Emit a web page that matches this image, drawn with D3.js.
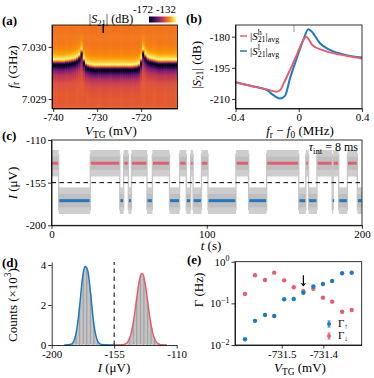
<!DOCTYPE html>
<html>
<head>
<meta charset="utf-8">
<script src="https://cdn.jsdelivr.net/npm/d3@7"></script>
<style>
  body { margin: 0; background: #fff; }
  svg { display: block; font-family: "Liberation Serif", serif; }
</style>
</head>
<body>
<svg id="fig" width="374" height="378"></svg>
<script>
// ---- (a) map of |S21| vs V_TG and f_r ----
const vtgCols = d3.range(-740, -711.9, 0.5);
// resonance shift (MHz) of every V_TG column
const resShift = [
  0, 0, 0, 0, 0, 0, 0.01, 0.01, 0.02, 0.03, 0.04, 0.06, 0.1, 0.2,
  0.03, -0.05, -0.075, -0.09, -0.095, -0.1, -0.1, -0.1, -0.1, -0.1, -0.1, -0.1, -0.1, -0.1,
  -0.1, -0.1, -0.1, -0.1, -0.1, -0.1, -0.1, -0.1, -0.1, -0.095, -0.09, -0.07, 0.03,
  0.2, 0.11, 0.06, 0.04, 0.03, 0.02, 0.01, 0, 0, 0, 0, 0, 0, 0, 0, 0
];
const fOuter = 7.029713; // GHz
// line shape: offset from resonance (MHz) -> |S21| (dB)
const profileDf = [-1.3, -0.6, -0.4, -0.25, -0.15, -0.09, -0.057, -0.029, 0, 0.029, 0.057, 0.095, 0.15, 0.23, 0.38, 0.86];
const profileDb = [-146.5, -147, -148.5, -152.5, -159.5, -168, -172, -167, -152, -138, -133, -136.5, -140, -142.5, -144, -144.5];
const cbarTicks = [-172, -132];
const markerVtg = -728.6;

// ---- (b) averaged traces ----
const fHigh = [-0.4, -0.3, -0.2, -0.14, -0.115, -0.095, -0.055, -0.013, 0.029, 0.048, 0.065, 0.085, 0.155, 0.26, 0.4];
const sHigh = [-202, -203.8, -205.4, -206.5, -205.5, -202.5, -196, -188.9, -181.6, -180, -181.5, -184, -186.6, -188.6, -190.5];
const fLow = [-0.4, -0.3, -0.2, -0.16, -0.118, -0.087, -0.055, -0.013, 0.029, 0.06, 0.08, 0.134, 0.197, 0.3, 0.4];
const sLow = [-202, -203.8, -205.8, -208.2, -209.8, -208.5, -200, -190.5, -181.6, -176.4, -177.4, -183.2, -186.4, -188.9, -190];
const markerDf = -0.03;

// ---- (c) telegraph trace ----
const switchTimes = [0, 4.6, 25.0, 44.0, 46.5, 49.5, 51.5, 61.5, 65.0, 76.0, 82.5, 86.8, 89.6, 91.2, 96.6,
  100.8, 118.8, 127.0, 138.6, 159.3, 163.8, 165.6, 171.0, 180.8, 181.4, 185.0, 190.6, 197.0, 200];
const firstState = "h";
const levelH = -134.5, levelL = -174, noiseHalf = 14;
const threshold = -155;

// ---- (d) histograms ----
const blueHistI = d3.range(-188, -162);
const blueHistN = [0.01, 0.02, 0.04, 0.09, 0.2, 0.41, 0.76, 1.25, 1.86, 2.57, 3.25, 3.71, 3.93, 3.88, 3.7, 3.22, 2.6, 1.88, 1.23, 0.74, 0.42, 0.2, 0.1, 0.04, 0.02, 0.01];
const redHistI = d3.range(-149, -120);
const redHistN = [0.01, 0.02, 0.05, 0.1, 0.18, 0.32, 0.53, 0.84, 1.23, 1.7, 2.22, 2.74, 3.18, 3.48, 3.57, 3.49, 3.17, 2.75, 2.21, 1.7, 1.23, 0.84, 0.53, 0.32, 0.18, 0.1, 0.05, 0.02, 0.01];
const blueFitEnds = [-191, -155];
const redFitEnds = [-155, -117];

// ---- (e) rates ----
const vtgE = [-731.588, -731.564, -731.54, -731.518, -731.494, -731.471, -731.448, -731.424, -731.401, -731.379, -731.355, -731.332];
const gammaUp = [0.0137, 0.038, 0.0525, 0.0497, 0.125, 0.127, 0.18, 0.256, 0.292, 0.344, 0.526, 0.545];
const gammaDown = [0.168, 0.471, 0.363, 0.546, 0.357, 0.243, 0.195, 0.225, 0.137, 0.11, 0.063, 0.069];
const arrowV = -731.448;

const RED = "#e0606f", BLUE = "#1f78c2";
const FS = 11, LFS = 13;
const svg = d3.select("#fig");

// text with sub/superscripts
function rich(sel, parts, fs) {
  let cur = 0;
  parts.forEach(p => {
    const target = p.sub ? 0.22 * fs : p.sup ? -0.4 * fs : 0;
    const ts = sel.append("tspan").text(p.t)
      .attr("font-size", (p.sub || p.sup) ? fs * 0.72 : fs);
    if (target !== cur || p.dx) ts.attr("dy", target - cur);
    if (p.dx) ts.attr("dx", p.dx);
    if (p.it) ts.attr("font-style", "italic");
    cur = target;
  });
  return sel;
}

function styleAxis(g) {
  g.selectAll("path, line").attr("stroke", "#000").attr("stroke-width", 0.8);
  g.selectAll("text").attr("font-size", FS).attr("font-family", "Liberation Serif, serif").attr("fill", "#000");
  return g;
}

function frame(x, y) {
  svg.append("rect")
    .attr("x", x.range()[0]).attr("y", y.range()[1])
    .attr("width", x.range()[1] - x.range()[0]).attr("height", y.range()[0] - y.range()[1])
    .attr("fill", "none").attr("stroke", "#000").attr("stroke-width", 0.8);
}

function xLabel(parts, x, y) {
  rich(svg.append("text").attr("x", x).attr("y", y).attr("text-anchor", "middle").attr("font-size", LFS), parts, LFS);
}
function yLabel(parts, x, y) {
  rich(svg.append("text").attr("transform", `translate(${x},${y}) rotate(-90)`)
    .attr("text-anchor", "middle").attr("dy", "0.35em").attr("font-size", LFS), parts, LFS);
}
function panelLabel(t, x, y) {
  svg.append("text").attr("x", x).attr("y", y).attr("font-size", 13).attr("font-weight", "bold").text(t);
}
const plain = d => String(d);

// ================= (a) =================
const xA = d3.scaleLinear().domain([-740.25, -711.75]).range([52, 177.4]);
const yA = d3.scaleLinear().domain([7.02882, 7.03042]).range([108.5, 25]);
const dbOf = d3.scaleLinear().domain(profileDf).range(profileDb).clamp(true);
const colorA = d3.scaleSequential(d3.interpolateInferno).domain([-172, -132]).clamp(true);

svg.append("clipPath").attr("id", "clipA").append("rect")
  .attr("x", 52).attr("y", 25).attr("width", 125.4).attr("height", 83.5);

const fRows = d3.range(7.02882, 7.03042, 0.00002);
const cells = [];
vtgCols.forEach((v, i) => {
  fRows.forEach(f => {
    const df = (f + 0.00001 - fOuter) * 1000 - resShift[i];
    cells.push({ v, f, db: dbOf(df) });
  });
});
svg.append("g").attr("clip-path", "url(#clipA)")
  .selectAll("rect").data(cells).join("rect")
  .attr("x", d => xA(d.v - 0.25))
  .attr("y", d => yA(d.f + 0.00002) - 0.3)
  .attr("width", xA(0.5) - xA(0) + 0.4)
  .attr("height", yA(7.029) - yA(7.02902) + 0.6)
  .attr("fill", d => colorA(d.db));

svg.append("line")
  .attr("x1", xA(markerVtg)).attr("x2", xA(markerVtg))
  .attr("y1", 24).attr("y2", 33).attr("stroke", "#000").attr("stroke-width", 1.5);

styleAxis(svg.append("g").attr("transform", "translate(52,0)")
  .call(d3.axisLeft(yA).tickValues([7.029, 7.03]).tickFormat(d3.format(".3f")).tickSize(3.5).tickSizeOuter(0).tickPadding(2)));
styleAxis(svg.append("g").attr("transform", "translate(0,108.5)")
  .call(d3.axisBottom(xA).tickValues([-740, -730, -720]).tickFormat(plain).tickSize(3.5).tickSizeOuter(0).tickPadding(1.5)));
frame(xA, yA);

// colorbar
const grad = svg.append("defs").append("linearGradient").attr("id", "cbar");
d3.range(0, 1.001, 0.1).forEach(t => {
  grad.append("stop").attr("offset", t).attr("stop-color", d3.interpolateInferno(t));
});
svg.append("rect").attr("x", 149).attr("y", 16.5).attr("width", 27).attr("height", 6).attr("fill", "url(#cbar)");
svg.selectAll(".cbt").data(cbarTicks).join("text")
  .attr("x", (d, i) => i === 0 ? 143 : 166).attr("y", 12.5)
  .attr("text-anchor", "middle").attr("font-size", FS).text(plain);
rich(svg.append("text").attr("x", 111).attr("y", 23).attr("text-anchor", "middle").attr("font-size", 12),
  [{ t: "|" }, { t: "S", it: true }, { t: "21", sub: true }, { t: "| (dB)" }], 12);

xLabel([{ t: "V", it: true }, { t: "TG", sub: true }, { t: " (mV)" }], 111, 135);
yLabel([{ t: "f", it: true }, { t: "r", sub: true }, { t: " (GHz)" }], 12, 67);
panelLabel("(a)", 2, 25);

// ================= (b) =================
const xB = d3.scaleLinear().domain([-0.4, 0.4]).range([235.5, 362]);
const yB = d3.scaleLinear().domain([-214.6, -174.4]).range([108.5, 25]);
const lineB = d3.line().curve(d3.curveMonotoneX);
svg.append("path").attr("d", lineB(fLow.map((f, i) => [xB(f), yB(sLow[i])])))
  .attr("fill", "none").attr("stroke", BLUE).attr("stroke-width", 2);
svg.append("path").attr("d", lineB(fHigh.map((f, i) => [xB(f), yB(sHigh[i])])))
  .attr("fill", "none").attr("stroke", RED).attr("stroke-width", 2);
svg.append("line").attr("x1", xB(markerDf)).attr("x2", xB(markerDf))
  .attr("y1", 25).attr("y2", 32).attr("stroke", "#999").attr("stroke-width", 1);

styleAxis(svg.append("g").attr("transform", "translate(235.5,0)")
  .call(d3.axisLeft(yB).tickValues([-180, -195, -210]).tickFormat(plain).tickSize(3.5).tickSizeOuter(0).tickPadding(2)));
styleAxis(svg.append("g").attr("transform", "translate(0,108.5)")
  .call(d3.axisBottom(xB).tickValues([-0.4, 0, 0.4]).tickFormat(plain).tickSize(3.5).tickSizeOuter(0).tickPadding(1.5)));
frame(xB, yB);

[[RED, "h", 36], [BLUE, "l", 51]].forEach(([c, s, y]) => {
  svg.append("line").attr("x1", 240).attr("x2", 247).attr("y1", y).attr("y2", y)
    .attr("stroke", c).attr("stroke-width", 1.5);
  rich(svg.append("text").attr("x", 250).attr("y", y + 3.5).attr("font-size", FS),
    [{ t: "|" }, { t: "S", it: true }, { t: s, sup: true }, { t: "21", sub: true, dx: s === "h" ? -4 : -2.2 }, { t: "|" }, { t: "avg", sub: true }], FS);
});

xLabel([{ t: "f", it: true }, { t: "r", sub: true }, { t: " − " }, { t: "f", it: true }, { t: "0", sub: true }, { t: " (MHz)" }], 300, 135);
yLabel([{ t: "|" }, { t: "S", it: true }, { t: "21", sub: true }, { t: "| (dB)" }], 196, 65);
panelLabel("(b)", 186, 23);

// ================= (c) =================
const xC = d3.scaleLinear().domain([0, 200]).range([51.5, 362]);
const yC = d3.scaleLinear().domain([-200, -110]).range([225.3, 140]);
const segs = switchTimes.slice(0, -1).map((t0, i) => {
  const s = (i % 2 === 0) === (firstState === "h") ? "h" : "l";
  return { t0, t1: switchTimes[i + 1], level: s === "h" ? levelH : levelL, color: s === "h" ? RED : BLUE };
});
const gC = svg.append("g");
gC.selectAll(".sw").data(switchTimes.slice(1, -1)).join("line")
  .attr("x1", d => xC(d)).attr("x2", d => xC(d))
  .attr("y1", yC(levelH + noiseHalf - 4)).attr("y2", yC(levelL - noiseHalf + 4))
  .attr("stroke", "#c4c4c4").attr("stroke-width", 1.3);
gC.selectAll(".outer").data(segs).join("rect")
  .attr("x", d => xC(d.t0)).attr("width", d => xC(d.t1) - xC(d.t0))
  .attr("y", d => yC(d.level + noiseHalf)).attr("height", d => yC(d.level - noiseHalf) - yC(d.level + noiseHalf))
  .attr("fill", "#cdcdcd");
gC.selectAll(".inner").data(segs).join("rect")
  .attr("x", d => xC(d.t0)).attr("width", d => xC(d.t1) - xC(d.t0))
  .attr("y", d => yC(d.level + noiseHalf / 2)).attr("height", d => yC(d.level - noiseHalf / 2) - yC(d.level + noiseHalf / 2))
  .attr("fill", "#bfbfbf");
gC.selectAll(".dots").data(segs).join("line")
  .attr("x1", d => xC(d.t0) + 0.6)
  .attr("x2", d => Math.max(xC(d.t1) - 0.6, xC(d.t0) + 2))
  .attr("y1", d => yC(d.level)).attr("y2", d => yC(d.level))
  .attr("stroke", d => d.color).attr("stroke-width", 3);
svg.append("line").attr("x1", xC(0)).attr("x2", xC(200))
  .attr("y1", yC(threshold)).attr("y2", yC(threshold))
  .attr("stroke", "#000").attr("stroke-width", 1).attr("stroke-dasharray", "4.5,3.5");

styleAxis(svg.append("g").attr("transform", "translate(51.5,0)")
  .call(d3.axisLeft(yC).tickValues([-110, -155, -200]).tickFormat(plain).tickSize(3.5).tickSizeOuter(0).tickPadding(2)));
styleAxis(svg.append("g").attr("transform", "translate(0,225.3)")
  .call(d3.axisBottom(xC).tickValues([0, 100, 200]).tickFormat(plain).tickSize(3.5).tickSizeOuter(0).tickPadding(1)));
frame(xC, yC);

rich(svg.append("text").attr("x", 358).attr("y", 151).attr("text-anchor", "end").attr("font-size", 12),
  [{ t: "τ", it: true }, { t: "int", sub: true }, { t: " = 8 ms" }], 12);
xLabel([{ t: "t", it: true }, { t: " (s)" }], 211, 250);
yLabel([{ t: "I", it: true }, { t: " (μV)" }], 12, 183);
panelLabel("(c)", 2, 140);

// ================= (d) =================
const xD = d3.scaleLinear().domain([-200, -110]).range([51.7, 176.7]);
const yD = d3.scaleLinear().domain([0, 4.15]).range([345, 262]);
const bars = blueHistI.map((c, i) => ({ c, n: blueHistN[i] }))
  .concat(redHistI.map((c, i) => ({ c, n: redHistN[i] })));
svg.append("g").selectAll("rect").data(bars).join("rect")
  .attr("x", d => xD(d.c - 0.5)).attr("width", xD(1) - xD(0))
  .attr("y", d => yD(d.n)).attr("height", d => yD(0) - yD(d.n))
  .attr("fill", "#a2a2a2").attr("stroke", "#dcdcdc").attr("stroke-width", 0.3);
const lineD = d3.line().curve(d3.curveMonotoneX);
const bluePts = [[blueFitEnds[0], 0]].concat(blueHistI.map((c, i) => [c, blueHistN[i]]), [[blueFitEnds[1], 0]]);
const redPts = [[redFitEnds[0], 0]].concat(redHistI.map((c, i) => [c, redHistN[i]]), [[redFitEnds[1], 0]]);
svg.append("path").attr("d", lineD(bluePts.map(p => [xD(p[0]), yD(p[1])])))
  .attr("fill", "none").attr("stroke", BLUE).attr("stroke-width", 1.5);
svg.append("path").attr("d", lineD(redPts.map(p => [xD(p[0]), yD(p[1])])))
  .attr("fill", "none").attr("stroke", RED).attr("stroke-width", 1.5);
svg.append("line").attr("x1", xD(threshold)).attr("x2", xD(threshold))
  .attr("y1", yD(0)).attr("y2", yD(4.15))
  .attr("stroke", "#000").attr("stroke-width", 1).attr("stroke-dasharray", "4.5,3.5");

styleAxis(svg.append("g").attr("transform", "translate(51.7,0)")
  .call(d3.axisLeft(yD).tickValues([0, 2, 4]).tickFormat(plain).tickSize(3.5).tickSizeOuter(0).tickPadding(2)));
styleAxis(svg.append("g").attr("transform", "translate(0,345)")
  .call(d3.axisBottom(xD).tickValues([-200, -155, -110]).tickFormat(plain).tickSize(3.5).tickSizeOuter(0).tickPadding(1.5)));

xLabel([{ t: "I", it: true }, { t: " (μV)" }], 114, 372);
yLabel([{ t: "Counts (×10" }, { t: "3", sup: true }, { t: ")" }], 12, 305);
panelLabel("(d)", 2, 267);

// ================= (e) =================
const xE = d3.scaleLinear().domain([-731.612, -731.308]).range([235, 361.7]);
const yE = d3.scaleLog().domain([0.01, 1]).range([345, 261.7]);
svg.append("g").selectAll("circle").data(vtgE.map((v, i) => ({ v, g: gammaDown[i] }))).join("circle")
  .attr("cx", d => xE(d.v)).attr("cy", d => yE(d.g)).attr("r", 2.2).attr("fill", RED);
svg.append("g").selectAll("circle").data(vtgE.map((v, i) => ({ v, g: gammaUp[i] }))).join("circle")
  .attr("cx", d => xE(d.v)).attr("cy", d => yE(d.g)).attr("r", 2.2).attr("fill", BLUE);

svg.append("line").attr("x1", xE(arrowV)).attr("x2", xE(arrowV))
  .attr("y1", yE(0.47)).attr("y2", yE(0.27))
  .attr("stroke", "#000").attr("stroke-width", 1.2);
svg.append("path")
  .attr("d", `M${xE(arrowV) - 2.8},${yE(0.31)} L${xE(arrowV)},${yE(0.255)} L${xE(arrowV) + 2.8},${yE(0.31)} L${xE(arrowV)},${yE(0.295)} Z`)
  .attr("fill", "#000");

const axEy = svg.append("g").attr("transform", "translate(235,0)")
  .call(d3.axisLeft(yE).tickValues([1, 0.1, 0.01]).tickSize(3.5).tickSizeOuter(0).tickPadding(2));
styleAxis(axEy);
axEy.selectAll(".tick text").each(function (d) {
  const t = d3.select(this).text(null);
  const e = Math.round(Math.log10(d));
  rich(t, [{ t: "10" }, { t: e === 0 ? "0" : "−" + Math.abs(e), sup: true }], FS);
});
styleAxis(svg.append("g").attr("transform", "translate(0,345)")
  .call(d3.axisBottom(xE).tickValues([-731.5, -731.4]).tickFormat(d => d.toFixed(1)).tickSize(3.5).tickSizeOuter(0).tickPadding(1.5)));
frame(xE, yE);

// legend
[[BLUE, "↑", 324], [RED, "↓", 336]].forEach(([c, s, y]) => {
  svg.append("line").attr("x1", 329).attr("x2", 329).attr("y1", y - 3).attr("y2", y + 3).attr("stroke", c).attr("stroke-width", 1);
  svg.append("line").attr("x1", 327.5).attr("x2", 330.5).attr("y1", y - 3).attr("y2", y - 3).attr("stroke", c).attr("stroke-width", 1);
  svg.append("line").attr("x1", 327.5).attr("x2", 330.5).attr("y1", y + 3).attr("y2", y + 3).attr("stroke", c).attr("stroke-width", 1);
  svg.append("circle").attr("cx", 329).attr("cy", y).attr("r", 2).attr("fill", c);
  rich(svg.append("text").attr("x", 338).attr("y", y + 3).attr("font-size", 11),
    [{ t: "Γ" }, { t: s, sub: true }], 11);
});

xLabel([{ t: "V", it: true }, { t: "TG", sub: true }, { t: " (mV)" }], 300, 372);
yLabel([{ t: "Γ (Hz)" }], 198, 290);
panelLabel("(e)", 187, 264);
</script>
</body>
</html>
